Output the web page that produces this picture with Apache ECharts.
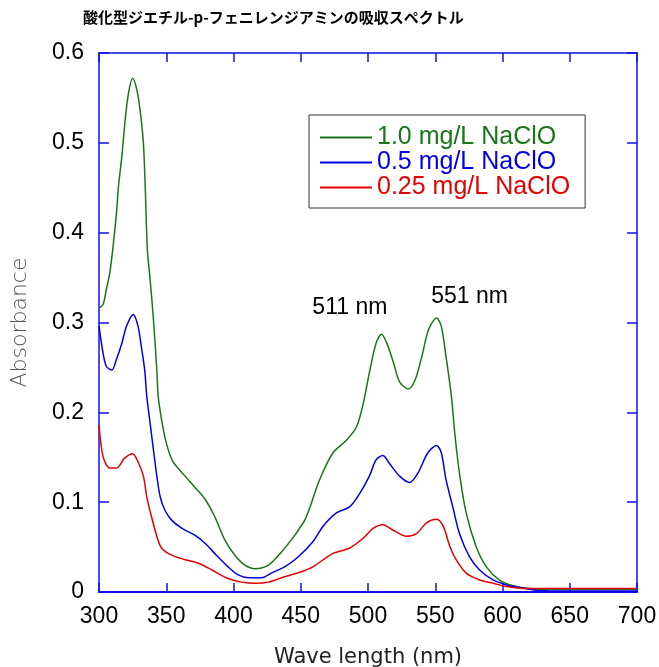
<!DOCTYPE html>
<html>
<head>
<meta charset="utf-8">
<script src="https://cdn.jsdelivr.net/npm/echarts@6/dist/echarts.min.js"></script>
<style>
  html, body { margin: 0; padding: 0; background: #fff; }
  #chart { width: 659px; height: 667px; }
</style>
</head>
<body>
<div id="chart"></div>
<script>
// 読み取り値（波長 nm / 吸光度）
const greenWave = [300, 303, 305.5, 308, 310.5, 313, 314.5, 317, 319.5, 322, 325, 328, 330.5, 333, 334.5, 336, 338, 340.5, 343, 344, 346.5, 350, 355, 364, 371, 379, 386, 393.5, 401, 408.5, 416, 426, 436, 445.5, 450, 453, 457, 464, 474, 484, 491.5, 496.5, 501, 506, 510, 514, 519, 523.5, 530, 535, 540, 545, 551, 554.5, 558, 562, 564.5, 568, 573, 580.5, 588, 598, 608, 620, 640, 670, 700]
const greenAbs = [0.316, 0.320, 0.337, 0.355, 0.385, 0.422, 0.452, 0.485, 0.526, 0.556, 0.572, 0.560, 0.537, 0.500, 0.445, 0.380, 0.348, 0.303, 0.247, 0.218, 0.192, 0.166, 0.145, 0.129, 0.117, 0.103, 0.084, 0.058, 0.041, 0.030, 0.026, 0.030, 0.045, 0.063, 0.073, 0.080, 0.095, 0.125, 0.155, 0.169, 0.184, 0.210, 0.244, 0.277, 0.287, 0.277, 0.255, 0.234, 0.226, 0.236, 0.262, 0.292, 0.305, 0.296, 0.262, 0.218, 0.177, 0.132, 0.088, 0.050, 0.028, 0.013, 0.007, 0.004, 0.003, 0.003, 0.003]

const blueWave = [300, 303, 305.5, 309.5, 313, 317, 320.5, 325.5, 329, 331.5, 334, 335.5, 338, 340.5, 343, 345.5, 349, 354, 361.5, 371, 379, 386, 396, 403.5, 411, 421, 428, 438, 448, 459, 466.5, 476.5, 486.5, 494, 501, 506, 511, 516, 523.5, 531, 537, 544.5, 551, 554.5, 558, 563, 568, 575.5, 583, 593, 603, 613, 625, 650, 700]
const blueAbs = [0.296, 0.266, 0.251, 0.247, 0.259, 0.277, 0.296, 0.309, 0.296, 0.273, 0.247, 0.218, 0.188, 0.158, 0.129, 0.106, 0.091, 0.080, 0.071, 0.0635, 0.054, 0.043, 0.028, 0.019, 0.016, 0.016, 0.021, 0.028, 0.039, 0.056, 0.073, 0.088, 0.095, 0.110, 0.129, 0.147, 0.152, 0.143, 0.129, 0.122, 0.132, 0.155, 0.163, 0.155, 0.125, 0.095, 0.065, 0.039, 0.0245, 0.0134, 0.0078, 0.005, 0.002, 0.001, 0.001]

const redWave = [300, 303, 308, 313, 319, 325, 329, 333, 335.5, 339, 343, 346.5, 354, 364, 374, 384, 396, 406, 416, 426, 438, 450.5, 459, 474, 486.5, 496.5, 504, 511, 518.5, 528.5, 536, 543.5, 551, 556, 561, 565.5, 573, 583, 593, 603, 615, 650, 700]
const redAbs = [0.186, 0.151, 0.138, 0.138, 0.149, 0.154, 0.145, 0.129, 0.106, 0.084, 0.062, 0.049, 0.041, 0.036, 0.032, 0.0245, 0.015, 0.011, 0.0097, 0.011, 0.017, 0.0226, 0.028, 0.043, 0.049, 0.060, 0.071, 0.075, 0.069, 0.062, 0.065, 0.077, 0.081, 0.073, 0.050, 0.036, 0.021, 0.0134, 0.0097, 0.006, 0.004, 0.004, 0.004]

const seriesNames = ['1.0 mg/L NaClO', '0.5 mg/L NaClO', '0.25 mg/L NaClO']
const seriesColors = ['#187818', '#0000e6', '#e60000']

// ピーク注記 [波長, 吸光度]
const peakLabels = ['511 nm', '551 nm']
const peakCoords = [[486.5, 0.317], [575.5, 0.329]]

const pairs = (xs, ys) => xs.map((x, i) => [x, ys[i]])

const chart = echarts.init(document.getElementById('chart'))

const axisBlue = '#1010ee'
const font = 'Liberation Sans, Arial, sans-serif'

const lineSeries = (i, data) => ({
    name: seriesNames[i],
    type: 'line',
    data: data,
    symbol: 'none',
    smooth: 0.3,
    lineStyle: { color: seriesColors[i], width: 1.5 },
    itemStyle: { color: seriesColors[i] }
})

const green = lineSeries(0, pairs(greenWave, greenAbs))
green.markPoint = {
    silent: true,
    symbol: 'circle',
    symbolSize: 1,
    itemStyle: { color: 'rgba(0,0,0,0)' },
    label: { show: true, position: 'inside', color: '#000', fontSize: 23, fontFamily: font },
    data: peakCoords.map((c, i) => ({ coord: c, value: peakLabels[i], label: { formatter: peakLabels[i] } }))
}

chart.setOption({
    animation: false,
    backgroundColor: '#fff',
    title: {
        text: '酸化型ジエチル-p-フェニレンジアミンの吸収スペクトル',
        left: 83,
        top: 10,
        padding: 0,
        textStyle: { fontSize: 15, fontWeight: 'bold', color: '#000', fontFamily: 'Noto Sans CJK JP' }
    },
    legend: {
        orient: 'vertical',
        left: 309,
        top: 115,
        padding: [10, 15, 8, 11],
        borderColor: '#333',
        borderWidth: 1,
        itemWidth: 52,
        itemHeight: 2,
        itemGap: 0,
        icon: 'rect',
        data: seriesNames.map((n, i) => ({
            name: n,
            itemStyle: { color: seriesColors[i] },
            textStyle: { color: seriesColors[i] }
        })),
        textStyle: { fontSize: 25, fontFamily: font, lineHeight: 25 }
    },
    grid: { left: 99, right: 22, top: 53, bottom: 75, outerBoundsMode: 'none' },
    xAxis: [
        {
            type: 'value',
            min: 300,
            max: 700,
            interval: 50,
            name: 'Wave length (nm)',
            nameLocation: 'middle',
            nameGap: 55,
            nameTextStyle: { fontSize: 21, color: '#222', fontFamily: 'DejaVu Sans' },
            axisLine: { show: true, onZero: false, lineStyle: { color: axisBlue, width: 2 } },
            axisTick: { show: true, inside: true, length: 9, lineStyle: { color: axisBlue, width: 1.5 } },
            axisLabel: { fontSize: 23, color: '#000', margin: 13, fontFamily: font },
            splitLine: { show: false }
        },
        {
            type: 'value',
            position: 'top',
            min: 300,
            max: 700,
            interval: 50,
            axisLine: { show: true, onZero: false, lineStyle: { color: axisBlue, width: 1.5 } },
            axisTick: { show: true, inside: true, length: 9, lineStyle: { color: axisBlue, width: 1.5 } },
            axisLabel: { show: false },
            splitLine: { show: false }
        }
    ],
    yAxis: [
        {
            type: 'value',
            min: 0,
            max: 0.6,
            interval: 0.1,
            name: 'Absorbance',
            nameLocation: 'middle',
            nameGap: 68,
            nameTextStyle: { fontSize: 22, color: '#555', fontFamily: 'DejaVu Sans', fontWeight: 'lighter' },
            axisLine: { show: true, onZero: false, lineStyle: { color: axisBlue, width: 1.5 } },
            axisTick: { show: true, inside: true, length: 10, lineStyle: { color: axisBlue, width: 1.5 } },
            axisLabel: { fontSize: 23, color: '#000', margin: 15, fontFamily: font },
            splitLine: { show: false }
        },
        {
            type: 'value',
            position: 'right',
            min: 0,
            max: 0.6,
            interval: 0.1,
            axisLine: { show: true, onZero: false, lineStyle: { color: axisBlue, width: 1.5 } },
            axisTick: { show: true, inside: true, length: 10, lineStyle: { color: axisBlue, width: 1.5 } },
            axisLabel: { show: false },
            splitLine: { show: false }
        }
    ],
    series: [
        green,
        lineSeries(1, pairs(blueWave, blueAbs)),
        lineSeries(2, pairs(redWave, redAbs))
    ]
})
</script>
</body>
</html>
